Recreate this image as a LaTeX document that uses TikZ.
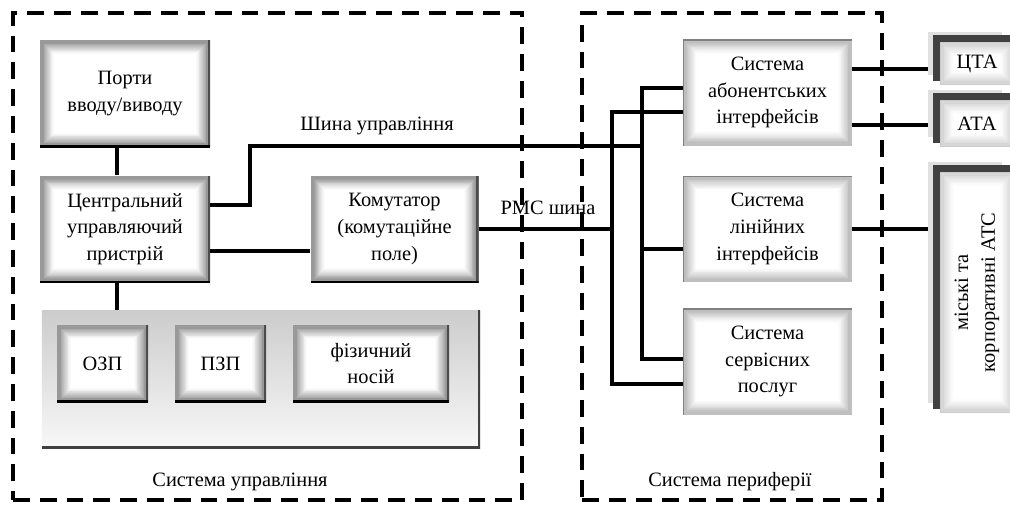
\documentclass[tikz,border=0pt]{standalone}
\usepackage{fontspec}
\setmainfont{Liberation Serif}
\usetikzlibrary{positioning,shadows,calc}

\newcommand\glowfill[1]{\foreach \k in {1,...,16}{\pgfmathsetmacro\tone{#1*min(1,1.25*(1-\k/16))^1.3}
 \fill[black!\tone] ([shift={(\k*0.22mm,\k*0.22mm)}]path picture bounding box.south west)
  rectangle ([shift={(-\k*0.22mm,-\k*0.22mm)}]path picture bounding box.north east);}}

\begin{document}
\begin{tikzpicture}[x=0.25mm,y=-0.25mm,
 every node/.style={font=\fontsize{14.5}{19}\selectfont},
 wire/.style={line width=1mm},
 zone/.style={draw,line width=1mm,dash pattern=on 4.2mm off 2.5mm,inner sep=0pt},
 ctlbox/.style={inner sep=0pt,align=center,fill=black!40,path picture={\glowfill{40}
  \draw[black!70,line width=1.2mm] (path picture bounding box.south east) -- (path picture bounding box.north east);
  \draw[black,line width=0.8mm] (path picture bounding box.south west) -- (path picture bounding box.south east);}},
 perbox/.style={inner sep=0pt,align=center,fill=black!25,minimum width=42.25mm,minimum height=26.5mm,path picture={\glowfill{25}
  \draw[black!50,line width=0.7mm] (path picture bounding box.south west) -- (path picture bounding box.north west)
   -- (path picture bounding box.north east);}},
 extbox/.style={inner sep=0pt,fill=black!20,minimum width=18.5mm,path picture={\glowfill{16}},
  general shadow={fill=black!12,shadow xshift=-3mm,shadow yshift=2.5mm}},
 ledge/.style={black!75,line width=1.8mm}]
\fill[white] (0,0) rectangle (1010,505);
\useasboundingbox (0,0) rectangle (1010,505);

\node[zone,minimum width=127.25mm,minimum height=121.75mm] (ctrl) at (267.5,256.5) {};
\node[zone,minimum width=75mm,minimum height=121.75mm] (peri) at (732,256.5) {};
\node (ctrllbl) at (240,482) {Система управління};
\node (perilbl) at (730,482) {Система периферії};

\node[ctlbox,minimum width=42.5mm,minimum height=26.75mm] (port) at (125,93.5) {Порти\\вводу/виводу};
\node[ctlbox,minimum width=42.5mm,minimum height=26.75mm,below=7mm of port] (cpu) {Центральний\\управляючий\\пристрій};
\node[ctlbox,minimum width=42mm,minimum height=26.75mm,right=25mm of cpu] (switch) {Комутатор\\(комутаційне\\поле)};
\node[inner sep=0pt,minimum width=109.5mm,minimum height=34.5mm,top color=black!20,bottom color=black!3,
 path picture={\draw[black!75,line width=1mm] (path picture bounding box.south west) -- (path picture bounding box.south east)
  -- (path picture bounding box.north east);}] (mem) at (261,379) {};
\node[ctlbox,minimum width=22.75mm,minimum height=19.25mm] (ram) at (102.5,363.5) {ОЗП};
\node[ctlbox,minimum width=22.75mm,minimum height=19.25mm] (rom) at (220.5,363.5) {ПЗП};
\node[ctlbox,minimum width=39mm,minimum height=19.25mm] (media) at (371,363.5) {фізичний\\носій};

\node[perbox] (subs) at (767.5,92.5) {Система\\абонентських\\інтерфейсів};
\node[perbox,below=7.5mm of subs] (line) {Система\\лінійних\\інтерфейсів};
\node[perbox,below=6.5mm of line] (serv) {Система\\сервісних\\послуг};

\node[extbox,minimum height=10.75mm] (cta) at (977,63.5) {ЦТА};
\node[extbox,minimum height=11.75mm] (ata) at (977,123.5) {АТА};
\node[extbox,minimum height=60.25mm] (ats) at (977,292.5) {};
\node[rotate=90,align=center] (atstext) at (ats) {міські та\\корпоративні АТС};
\foreach \n in {cta,ata,ats}{\draw[ledge] ([shift={(-0.9mm,1mm)}]\n.south west) -- ([shift={(-0.9mm,0.9mm)}]\n.north west)
 -- ([yshift=0.9mm]\n.north east);}

\coordinate (jA) at (642,248);
\coordinate (jB) at (612,250);
\coordinate (busend) at (642,146);

\draw[wire] ([xshift=-2mm]port.south) -- ([xshift=-2mm]cpu.north);
\draw[wire] ([xshift=-2mm]cpu.south) -- ([xshift=-2mm]cpu.south |- mem.north);
\draw[wire] ([yshift=5.9mm]cpu.east) -- ++(40,0) |- (busend);
\draw[wire] ([yshift=-5.4mm]cpu.east) -- ([yshift=-5.4mm]switch.west);
\draw[wire] (switch.east) -- (switch.east -| jB);
\node (cbuslbl) at (377,126) {Шина управління};
\node (pcmlbl) at (548,208) {РМС шина};

\draw[wire] ([yshift=1.1mm]subs.west) -| (jA) |- ([yshift=0.6mm]serv.west);
\draw[wire] ([yshift=-4.9mm]subs.west) -| (jB) |- ([yshift=-5.6mm]serv.west);
\draw[wire] ([yshift=-4.9mm]line.west) -| (jA);

\draw[wire] ([yshift=5.9mm]subs.east) coordinate (o1) -- ($(o1 -| cta.west)+(-12,0)$);
\draw[wire] ([yshift=-8.1mm]subs.east) coordinate (o2) -- ($(o2 -| ata.west)+(-12,0)$);
\draw[wire] (line.east) -- ($(line.east -| ats.west)+(-12,0)$);
\end{tikzpicture}
\end{document}
